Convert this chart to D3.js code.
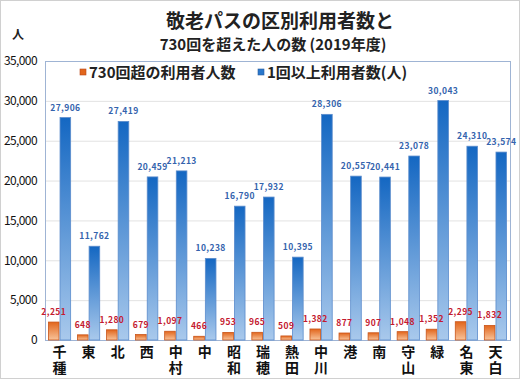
<!DOCTYPE html>
<html>
<head>
<meta charset="utf-8">
<script src="https://cdn.jsdelivr.net/npm/d3@7"></script>
<style>
  body { margin: 0; background: #fff; }
  text { font-family: "Noto Sans CJK JP", "Noto Sans", sans-serif; }
</style>
</head>
<body>
<script>
var categories = ["千種", "東", "北", "西", "中村", "中", "昭和", "瑞穂", "熱田", "中川", "港", "南", "守山", "緑", "名東", "天白"];
var over730 = [2251, 648, 1280, 679, 1097, 466, 953, 965, 509, 1382, 877, 907, 1048, 1352, 2295, 1832];
var users = [27906, 11762, 27419, 20459, 21213, 10238, 16790, 17932, 10395, 28306, 20557, 20441, 23078, 30043, 24310, 23574];
var yTicks = [0, 5000, 10000, 15000, 20000, 25000, 30000, 35000];
var seriesNames = ["730回超の利用者人数", "1回以上利用者数(人)"];

var width = 520, height = 379;
var plotLeft = 45, plotRight = 510, plotTop = 61, plotBottom = 340;

var svg = d3.select("body").append("svg")
  .attr("width", width)
  .attr("height", height);

svg.append("rect")
  .attr("x", 0.5).attr("y", 0.5)
  .attr("width", width - 1).attr("height", height - 1)
  .attr("fill", "#fff").attr("stroke", "#d0d0d0");

var defs = svg.append("defs");
var gBlue = defs.append("linearGradient").attr("id", "gblue")
  .attr("x1", 0).attr("y1", 0).attr("x2", 0).attr("y2", 1);
gBlue.append("stop").attr("offset", "0%").attr("stop-color", "#1467c2");
gBlue.append("stop").attr("offset", "100%").attr("stop-color", "#a9c9ec");
var gOrange = defs.append("linearGradient").attr("id", "gorange")
  .attr("x1", 0).attr("y1", 0).attr("x2", 0).attr("y2", 1);
gOrange.append("stop").attr("offset", "0%").attr("stop-color", "#e2661c");
gOrange.append("stop").attr("offset", "100%").attr("stop-color", "#f8c39a");

var x0 = d3.scaleBand()
  .domain(categories)
  .range([plotLeft, plotRight])
  .paddingInner(0.2)
  .paddingOuter(0.1);

var x1 = d3.scaleBand()
  .domain([0, 1])
  .range([0, x0.bandwidth()]);

var y = d3.scaleLinear()
  .domain([0, 35000])
  .range([plotBottom, plotTop]);

// grid
svg.append("g")
  .selectAll("line")
  .data(yTicks)
  .enter()
  .append("line")
    .attr("x1", plotLeft).attr("x2", plotRight)
    .attr("y1", function(d) { return y(d) + 0.5; })
    .attr("y2", function(d) { return y(d) + 0.5; })
    .attr("stroke", "#e2e2e2");

// plot frame
svg.append("rect")
  .attr("x", plotLeft + 0.5).attr("y", plotTop + 0.5)
  .attr("width", plotRight - plotLeft).attr("height", plotBottom - plotTop)
  .attr("fill", "none").attr("stroke", "#9fb4d4");

// y axis labels
var yAxis = d3.axisLeft(y)
  .tickValues(yTicks)
  .tickSize(0)
  .tickPadding(8)
  .tickFormat(d3.format(","));

svg.append("g")
  .attr("transform", "translate(" + plotLeft + ",0)")
  .call(yAxis)
  .call(function(g) { g.select(".domain").remove(); })
  .selectAll("text")
    .attr("font-family", "'Liberation Sans', sans-serif")
    .attr("font-size", 12)
    .attr("letter-spacing", -0.6)
    .attr("fill", "#111");

var groups = svg.append("g")
  .selectAll("g")
  .data(categories)
  .enter()
  .append("g")
    .attr("transform", function(d) { return "translate(" + x0(d) + ",0)"; });

// orange bars
groups.append("rect")
  .attr("x", x1(0) + 0.5)
  .attr("width", x1.bandwidth() - 1)
  .attr("y", function(d, i) { return y(over730[i]); })
  .attr("height", function(d, i) { return plotBottom - y(over730[i]); })
  .attr("fill", "url(#gorange)")
  .attr("stroke", "#c9551a")
  .attr("stroke-width", 0.8);

// blue bars
groups.append("rect")
  .attr("x", x1(1) + 0.5)
  .attr("width", x1.bandwidth() - 1)
  .attr("y", function(d, i) { return y(users[i]); })
  .attr("height", function(d, i) { return plotBottom - y(users[i]); })
  .attr("fill", "url(#gblue)")
  .attr("stroke", "#5b8ccc")
  .attr("stroke-width", 0.8);

// value labels
groups.append("text")
  .attr("x", x1(0) + x1.bandwidth() / 2)
  .attr("y", function(d, i) { return y(over730[i]) - 7; })
  .attr("text-anchor", "middle")
  .attr("font-family", "'Liberation Sans', sans-serif")
  .attr("font-size", 8.5)
  .attr("font-weight", "bold")
  .attr("letter-spacing", 0.4)
  .attr("fill", "#c41a30")
  .text(function(d, i) { return d3.format(",")(over730[i]); });

groups.append("text")
  .attr("x", x1(1) + x1.bandwidth() / 2)
  .attr("y", function(d, i) { return y(users[i]) - 7; })
  .attr("text-anchor", "middle")
  .attr("font-family", "'Liberation Sans', sans-serif")
  .attr("font-size", 8.5)
  .attr("font-weight", "bold")
  .attr("letter-spacing", 0.4)
  .attr("fill", "#3463ad")
  .text(function(d, i) { return d3.format(",")(users[i]); });

// category labels, written vertically
groups.append("text")
  .attr("x", x0.bandwidth() / 2)
  .attr("y", 345)
  .attr("writing-mode", "vertical-rl")
  .attr("letter-spacing", 2)
  .attr("font-size", 14)
  .attr("font-weight", "bold")
  .attr("fill", "#111")
  .text(function(d) { return d; });

// legend
var legendX = [80, 258];
var legendColors = ["#e2661c", "#2a78cc"];
var legendStroke = ["#b9461a", "#2a5d9e"];
seriesNames.forEach(function(name, i) {
  svg.append("rect")
    .attr("x", legendX[i]).attr("y", 69)
    .attr("width", 6).attr("height", 6)
    .attr("fill", legendColors[i])
    .attr("stroke", legendStroke[i])
    .attr("stroke-width", 0.6);
  svg.append("text")
    .attr("x", legendX[i] + 9).attr("y", 78)
    .attr("font-size", 15)
    .attr("font-weight", "bold")
    .attr("fill", "#222")
    .text(name);
});

// titles
svg.append("text")
  .attr("x", 280).attr("y", 28)
  .attr("text-anchor", "middle")
  .attr("font-size", 19)
  .attr("font-weight", "bold")
  .attr("fill", "#222")
  .text("敬老パスの区別利用者数と");

svg.append("text")
  .attr("x", 273).attr("y", 50)
  .attr("text-anchor", "middle")
  .attr("font-size", 15)
  .attr("font-weight", "bold")
  .attr("fill", "#222")
  .text("730回を超えた人の数 (2019年度)");

svg.append("text")
  .attr("x", 18).attr("y", 39)
  .attr("text-anchor", "middle")
  .attr("font-size", 12)
  .attr("font-weight", "bold")
  .attr("fill", "#222")
  .text("人");
</script>
</body>
</html>
